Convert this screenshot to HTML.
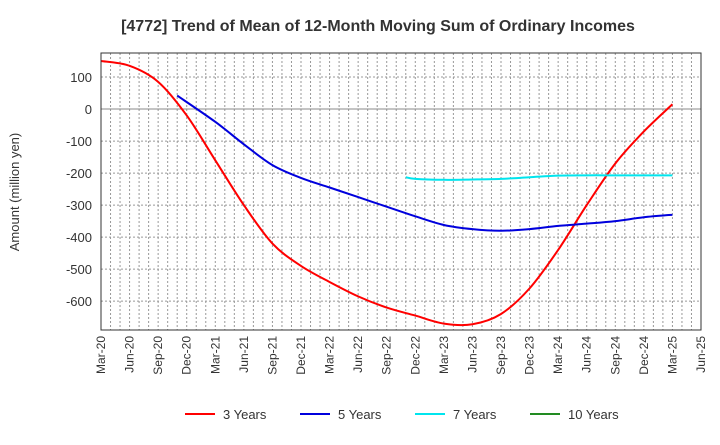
<!DOCTYPE html>
<html><head><meta charset="utf-8"><style>
body{margin:0;background:#fff;font-family:"Liberation Sans",sans-serif;}
svg text{font-family:"Liberation Sans",sans-serif;}
</style></head><body>
<svg id="c" width="720" height="440" xmlns="http://www.w3.org/2000/svg">
<text x="378" y="31" text-anchor="middle" font-size="16" font-weight="bold" fill="#333">[4772]  Trend of Mean of 12-Month Moving Sum of Ordinary Incomes</text>
<text transform="translate(19,192) rotate(-90)" text-anchor="middle" font-size="13" fill="#333">Amount (million yen)</text>
<g id="grid"></g><g id="series"></g><g id="axes"></g><g id="legend"></g>
</svg>
<script>
const xLabels=["Mar-20","Jun-20","Sep-20","Dec-20","Mar-21","Jun-21","Sep-21","Dec-21","Mar-22","Jun-22","Sep-22","Dec-22","Mar-23","Jun-23","Sep-23","Dec-23","Mar-24","Jun-24","Sep-24","Dec-24","Mar-25","Jun-25"];
const yTicks=[100,0,-100,-200,-300,-400,-500,-600];
const m3=[0,3,6,9,12,15,18,21,24,27,30,33,36,39,42,45,48,51,54,57,60];
const v3=[150,135,85,-20,-160,-300,-420,-490,-540,-585,-620,-645,-670,-672,-640,-560,-440,-300,-170,-70,15];
const m5=[8,12,15,18,21,24,27,30,33,36,39,42,45,48,51,54,57,60];
const v5=[42,-40,-110,-175,-215,-245,-275,-305,-335,-362,-375,-380,-375,-365,-358,-350,-338,-330];
const m7=[32,33,36,39,42,45,48,51,54,57,60];
const v7=[-213,-218,-221,-220,-218,-213,-208,-207,-207,-207,-207];
const m10=[];const v10=[];
const L=101,R=701,T=53,B=330,yMax=175,yMin=-690,months=63;
const X=m=>L+(R-L)*m/months;
const Y=v=>T+(B-T)*(yMax-v)/(yMax-yMin);
const NS="http://www.w3.org/2000/svg";
function mk(t,a,p){const e=document.createElementNS(NS,t);for(const k in a)e.setAttribute(k,a[k]);p.appendChild(e);return e;}
const g=document.getElementById('grid'),ax=document.getElementById('axes'),sg=document.getElementById('series'),lg=document.getElementById('legend');
for(let m=1;m<months;m++){const l=mk('line',{x1:X(m),x2:X(m),y1:T,y2:B,stroke:'#999','stroke-dasharray':'2,2','stroke-width':1},g);

}
yTicks.forEach(v=>{const l=mk('line',{x1:L,x2:R,y1:Y(v),y2:Y(v),stroke:v===0?'#888':'#999','stroke-dasharray':v===0?'':'2,2'},g);


const t=mk('text',{x:L-9,y:Y(v)+5,'text-anchor':'end','font-size':13,fill:'#333'},ax);t.textContent=v;

});
const fr=mk('rect',{x:L,y:T,width:R-L,height:B-T,fill:'none',stroke:'#333'},ax);


xLabels.forEach((s,i)=>{const x=X(i*3);const t=mk('text',{transform:`translate(${x+4},${B+6}) rotate(-90)`,'text-anchor':'end','font-size':12,fill:'#333'},ax);t.textContent=s;

});
function path(ms,vs){const p=ms.map((m,i)=>[X(m),Y(vs[i])]);if(!p.length)return'';let d=`M${p[0][0]},${p[0][1]}`;
for(let i=0;i<p.length-1;i++){const p0=p[i-1]||p[i],p1=p[i],p2=p[i+1],p3=p[i+2]||p2;
d+=` C${p1[0]+(p2[0]-p0[0])/6},${p1[1]+(p2[1]-p0[1])/6} ${p2[0]-(p3[0]-p1[0])/6},${p2[1]-(p3[1]-p1[1])/6} ${p2[0]},${p2[1]}`;}return d;}
const S=[[m3,v3,'#ff0000','3 Years','series-3-years'],[m5,v5,'#0000dd','5 Years','series-5-years'],[m7,v7,'#00e5ee','7 Years','series-7-years'],[m10,v10,'#228b22','10 Years','series-10-years']];
S.forEach((s,i)=>{if(s[0].length){const p=mk('path',{d:path(s[0],s[1]),fill:'none',stroke:s[2],'stroke-width':2},sg);

}
const x0=185+i*115;
const gi=mk('g',{},lg);


mk('line',{x1:x0,x2:x0+30,y1:414,y2:414,stroke:s[2],'stroke-width':2},gi);
const t=mk('text',{x:x0+38,y:419,'font-size':13,fill:'#333'},gi);t.textContent=s[3];});
</script>
</body></html>
